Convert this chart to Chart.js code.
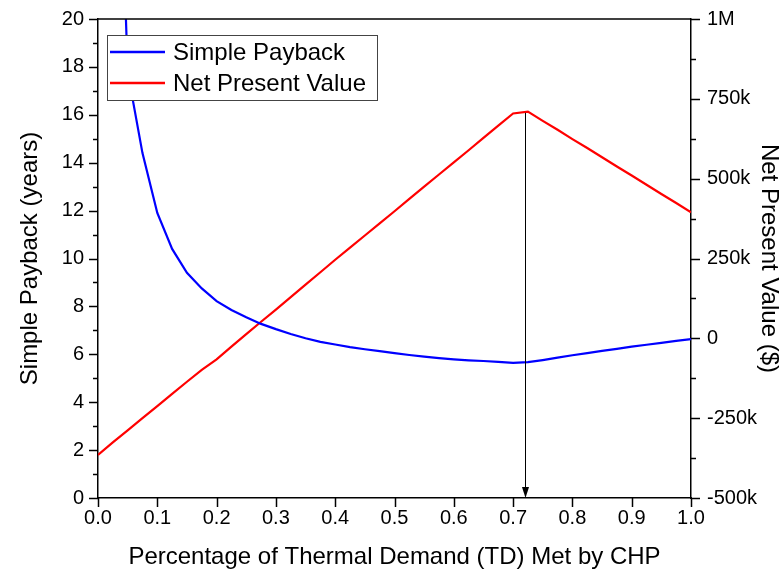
<!DOCTYPE html>
<html>
<head>
<meta charset="utf-8">
<title>CHP sizing: payback and NPV</title>
<script src="https://cdn.jsdelivr.net/npm/chart.js@4.4.1/dist/chart.umd.min.js"></script>
<style>
  html, body { margin: 0; padding: 0; background: #ffffff; }
  #wrap { width: 783px; height: 576px; }
</style>
</head>
<body>
<div id="wrap"><canvas id="chart" width="783" height="576"></canvas></div>
<script>
// Fraction of thermal demand met by CHP
const tdFraction = [
  0.000, 0.025, 0.050, 0.075, 0.100, 0.125, 0.150, 0.175, 0.200, 0.225,
  0.250, 0.275, 0.300, 0.325, 0.350, 0.375, 0.400, 0.425, 0.450, 0.475,
  0.500, 0.525, 0.550, 0.575, 0.600, 0.625, 0.650, 0.675, 0.700, 0.725,
  0.750, 0.775, 0.800, 0.825, 0.850, 0.875, 0.900, 0.925, 0.950, 0.975, 1.000
];

// Simple payback (years); undefined at zero CHP share
const simplePayback = [
  null, 36.8, 17.8, 14.4, 11.9, 10.4, 9.40, 8.75, 8.22, 7.85,
  7.55, 7.27, 7.05, 6.85, 6.67, 6.52, 6.41, 6.30, 6.21, 6.13,
  6.05, 5.97, 5.90, 5.84, 5.79, 5.75, 5.72, 5.68, 5.64, 5.67,
  5.76, 5.86, 5.96, 6.05, 6.14, 6.23, 6.32, 6.40, 6.48, 6.56, 6.63
];

// Net present value ($)
const netPresentValue = [
  -365000, -326000, -288000, -250000, -212000, -174000, -136000, -99000, -66000, -26000,
  13000, 52000, 90000, 129000, 168000, 207000, 246000, 284000, 322000, 360000,
  398000, 437000, 475000, 513000, 551000, 589000, 628000, 666000, 704000, 710000,
  681000, 653000, 624000, 596000, 567000, 538000, 510000, 481000, 452000, 424000, 395000
];

// Tick settings
const xTicks = { min: 0, max: 1, step: 0.1 };
const leftTicks = { min: 0, max: 20, major: 2, minor: 1 };
const rightTicks = { min: -500000, max: 1000000, major: 250000, minor: 125000 };

// Optimum CHP share marked with an arrow
const optimumShare = 0.72;
const optimumNpv = 706000;

const FONT = '"Liberation Sans", Arial, Helvetica, sans-serif';

const paybackPoints = tdFraction.map((x, i) => ({ x: x, y: simplePayback[i] }));
const npvPoints = tdFraction.map((x, i) => ({ x: x, y: netPresentValue[i] }));

function npvLabel(v) {
  if (v === 0) return '0';
  if (Math.abs(v) >= 1000000) return (v / 1000000) + 'M';
  return (v / 1000) + 'k';
}

// Fixed axis box sizes so the plot frame lands where intended
function fixVertical(width) {
  return (scale) => {
    scale.width = width;
    scale.paddingTop = 0;
    scale.paddingBottom = 0;
  };
}

// Tick marks (major + minor), top frame line, optimum arrow and legend box
const decorations = {
  id: 'decorations',
  afterDatasetsDraw(chart) {
    const ctx = chart.ctx;
    const area = chart.chartArea;
    const xs = chart.scales.x, ys = chart.scales.y, y1 = chart.scales.y1;
    ctx.save();
    ctx.strokeStyle = '#000000';
    ctx.lineWidth = 1.5;

    // top frame line
    ctx.beginPath();
    ctx.moveTo(area.left, area.top);
    ctx.lineTo(area.right, area.top);
    ctx.stroke();

    // left axis ticks
    for (let v = leftTicks.min; v <= leftTicks.max + 1e-9; v += leftTicks.minor) {
      const p = Math.round(ys.getPixelForValue(v)) + 0.5;
      const len = (Math.round(v / leftTicks.minor) % (leftTicks.major / leftTicks.minor) === 0) ? 9 : 5;
      ctx.beginPath();
      ctx.moveTo(area.left - len, p);
      ctx.lineTo(area.left, p);
      ctx.stroke();
    }
    // right axis ticks
    for (let v = rightTicks.min; v <= rightTicks.max + 1; v += rightTicks.minor) {
      const p = Math.round(y1.getPixelForValue(v)) + 0.5;
      const len = (Math.round((v - rightTicks.min) / rightTicks.minor) % 2 === 0) ? 9 : 5;
      ctx.beginPath();
      ctx.moveTo(area.right, p);
      ctx.lineTo(area.right + len, p);
      ctx.stroke();
    }
    // bottom axis ticks
    for (let i = 0; i <= 10; i++) {
      const v = xTicks.min + i * xTicks.step;
      const p = Math.round(xs.getPixelForValue(v)) + 0.5;
      ctx.beginPath();
      ctx.moveTo(p, area.bottom);
      ctx.lineTo(p, area.bottom + 9);
      ctx.stroke();
    }

    // optimum arrow
    const ax = Math.round(xs.getPixelForValue(optimumShare)) + 0.5;
    const ay = y1.getPixelForValue(optimumNpv);
    ctx.lineWidth = 1;
    ctx.beginPath();
    ctx.moveTo(ax, ay);
    ctx.lineTo(ax, area.bottom - 8);
    ctx.stroke();
    ctx.fillStyle = '#000000';
    ctx.beginPath();
    ctx.moveTo(ax, area.bottom);
    ctx.lineTo(ax - 3.5, area.bottom - 11);
    ctx.lineTo(ax + 3.5, area.bottom - 11);
    ctx.closePath();
    ctx.fill();

    // legend box
    const lx = area.left + 9, ly = area.top + 16, lw = 270, lh = 65;
    ctx.fillStyle = '#ffffff';
    ctx.fillRect(lx, ly, lw, lh);
    ctx.strokeStyle = '#444444';
    ctx.lineWidth = 1;
    ctx.strokeRect(lx + 0.5, ly + 0.5, lw, lh);
    const items = chart.data.datasets;
    ctx.font = '24px ' + FONT;
    ctx.textBaseline = 'middle';
    ctx.textAlign = 'left';
    items.forEach((ds, i) => {
      const cy = ly + 17 + i * 31;
      ctx.strokeStyle = ds.borderColor;
      ctx.lineWidth = 2.5;
      ctx.beginPath();
      ctx.moveTo(lx + 3, cy);
      ctx.lineTo(lx + 58, cy);
      ctx.stroke();
      ctx.fillStyle = '#000000';
      ctx.fillText(ds.label, lx + 66, cy + 1);
    });
    ctx.restore();
  }
};

new Chart(document.getElementById('chart'), {
  type: 'line',
  data: {
    datasets: [
      {
        label: 'Simple Payback',
        data: paybackPoints,
        yAxisID: 'y',
        borderColor: '#0000ff',
        borderWidth: 2.2,
        pointRadius: 0,
        tension: 0,
        spanGaps: false
      },
      {
        label: 'Net Present Value',
        data: npvPoints,
        yAxisID: 'y1',
        borderColor: '#ff0000',
        borderWidth: 2.2,
        pointRadius: 0,
        tension: 0
      }
    ]
  },
  options: {
    responsive: false,
    animation: false,
    devicePixelRatio: 1,
    layout: { padding: { top: 19, left: 0, right: 0, bottom: 0 } },
    plugins: {
      legend: { display: false },
      tooltip: { enabled: false }
    },
    scales: {
      x: {
        type: 'linear',
        min: xTicks.min,
        max: xTicks.max,
        afterFit(scale) {
          scale.height = 78;
          scale.paddingLeft = 0;
          scale.paddingRight = 0;
        },
        grid: { display: false, drawTicks: false },
        border: { display: true, color: '#000000', width: 1.5 },
        ticks: {
          stepSize: xTicks.step,
          color: '#000000',
          font: { family: FONT, size: 20 },
          padding: 8,
          maxRotation: 0,
          callback: (v) => Number(v).toFixed(1)
        },
        title: {
          display: true,
          text: 'Percentage of Thermal Demand (TD) Met by CHP',
          color: '#000000',
          font: { family: FONT, size: 24 },
          padding: { top: 0, bottom: 4 }
        }
      },
      y: {
        type: 'linear',
        position: 'left',
        min: leftTicks.min,
        max: leftTicks.max,
        afterFit: fixVertical(98),
        grid: { display: false, drawTicks: false },
        border: { display: true, color: '#000000', width: 1.5 },
        ticks: {
          stepSize: leftTicks.major,
          color: '#000000',
          font: { family: FONT, size: 20 },
          padding: 14
        },
        title: {
          display: true,
          text: 'Simple Payback (years)',
          color: '#000000',
          font: { family: FONT, size: 24 },
          padding: { top: 16, bottom: 0 }
        }
      },
      y1: {
        type: 'linear',
        position: 'right',
        min: rightTicks.min,
        max: rightTicks.max,
        afterFit: fixVertical(92),
        grid: { display: false, drawTicks: false },
        border: { display: true, color: '#000000', width: 1.5 },
        ticks: {
          stepSize: rightTicks.major,
          color: '#000000',
          font: { family: FONT, size: 20 },
          padding: 16,
          callback: (v) => npvLabel(v)
        },
        title: {
          display: true,
          text: 'Net Present Value ($)',
          color: '#000000',
          font: { family: FONT, size: 24 },
          padding: { top: 0, bottom: 0 }
        }
      }
    }
  },
  plugins: [decorations]
});
</script>
</body>
</html>
